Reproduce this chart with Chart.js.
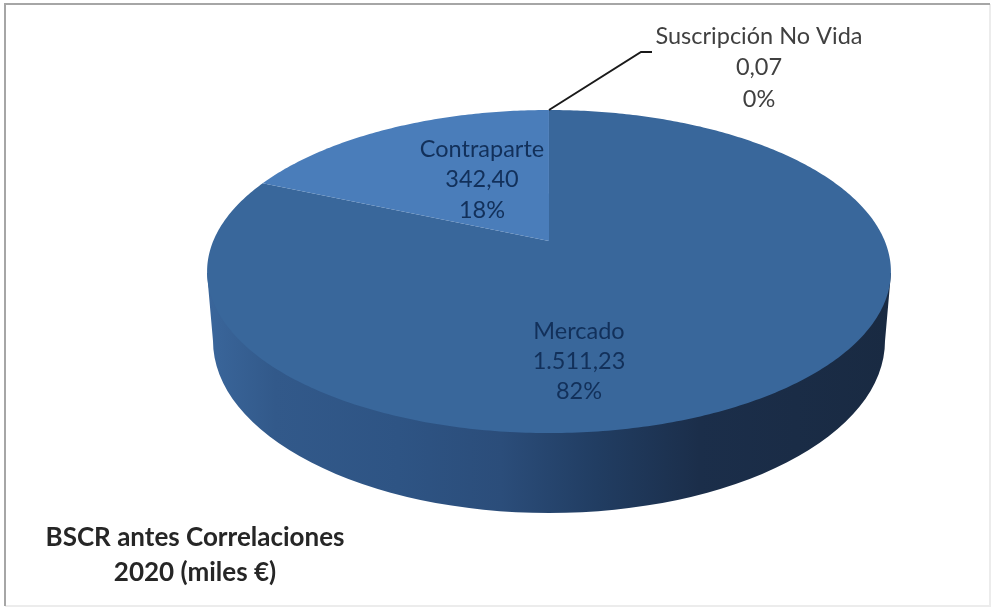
<!DOCTYPE html>
<html>
<head>
<meta charset="utf-8">
<title>BSCR antes Correlaciones 2020</title>
<script src="https://cdn.jsdelivr.net/npm/chart.js@4"></script>
<style>
  html, body { margin: 0; padding: 0; background: #fff; overflow: hidden; }
  #wrap { width: 993px; height: 608px; }
  /* the original is a soft, low quality picture */
  canvas { filter: blur(0.6px); }
</style>
</head>
<body>
<div id="wrap"><canvas id="chart" width="993" height="608"></canvas></div>
<script>
const categories = ['Mercado', 'Contraparte', 'Suscripción No Vida'];
const values = [1511.23, 342.40, 0.07];
const valueLabels = ['1.511,23', '342,40', '0,07'];
const sliceColors = ['#39679b', '#4a7dba', '#39679b'];
const titleLines = ['BSCR antes Correlaciones', '2020 (miles €)'];

const total = values.reduce((a, b) => a + b, 0);

// pie is tilted: maps the round pie of chart.js onto the flattened perspective disc
const tilt = { sx: 2.563, sy: 1.189, k: -0.189 };

function project(el, angle) {
  const v = Math.sin(angle);
  const d = 1 + tilt.k * v;
  return {
    x: el.x + el.outerRadius * tilt.sx * Math.cos(angle) / d,
    y: el.y + el.outerRadius * tilt.sy * v / d
  };
}

function drawWall(ctx, el) {
  const grad = ctx.createLinearGradient(207, 0, 891, 0);
  grad.addColorStop(0, '#3a669b');
  grad.addColorStop(0.1, '#32598a');
  grad.addColorStop(0.28, '#2e5484');
  grad.addColorStop(0.43, '#2b4d7a');
  grad.addColorStop(0.57, '#213d62');
  grad.addColorStop(0.72, '#1b2e4a');
  grad.addColorStop(1, '#192a42');
  const cy = el.y + 100;
  ctx.beginPath();
  ctx.moveTo(el.x - 342, el.y + 32);
  ctx.ellipse(el.x, cy, 336, 172, 0, Math.PI, 0, true);
  ctx.lineTo(el.x + 342, el.y + 32);
  ctx.closePath();
  ctx.fillStyle = grad;
  ctx.fill();
}

function drawSlice(ctx, el) {
  ctx.beginPath();
  ctx.moveTo(el.x, el.y);
  const steps = Math.max(2, Math.ceil((el.endAngle - el.startAngle) * 80));
  for (let i = 0; i <= steps; i++) {
    const a = el.startAngle + (el.endAngle - el.startAngle) * i / steps;
    const p = project(el, a);
    ctx.lineTo(p.x, p.y);
  }
  ctx.closePath();
  ctx.fillStyle = el.options.backgroundColor;
  ctx.fill();
}

function textBlock(ctx, lines, x, ys, font, color) {
  ctx.font = font;
  ctx.fillStyle = color;
  ctx.textAlign = 'center';
  ctx.textBaseline = 'middle';
  lines.forEach((t, i) => ctx.fillText(t, x, ys[i]));
}

function drawFrame(ctx) {
  ctx.lineWidth = 2;
  ctx.strokeStyle = '#ececec';
  ctx.beginPath();
  ctx.moveTo(990, 4);
  ctx.lineTo(990, 606);
  ctx.lineTo(5, 606);
  ctx.stroke();
  ctx.strokeStyle = '#a6a6a6';
  ctx.beginPath();
  ctx.moveTo(5, 606);
  ctx.lineTo(5, 4);
  ctx.lineTo(990, 4);
  ctx.stroke();
}

const tiltedPie = {
  id: 'tiltedPie',
  beforeDatasetsDraw(chart) {
    const ctx = chart.ctx;
    const arcs = chart.getDatasetMeta(0).data;
    ctx.save();
    drawWall(ctx, arcs[0]);
    arcs.forEach(el => drawSlice(ctx, el));
    ctx.restore();
    return false;
  },
  afterDraw(chart) {
    const ctx = chart.ctx;
    const arcs = chart.getDatasetMeta(0).data;
    ctx.save();

    drawFrame(ctx);

    // leader line for the tiny slice
    const top = project(arcs[2], arcs[2].endAngle);
    ctx.strokeStyle = '#1a1a1a';
    ctx.lineWidth = 2;
    ctx.beginPath();
    ctx.moveTo(top.x, top.y);
    ctx.lineTo(top.x + 92, top.y - 58);
    ctx.lineTo(top.x + 103, top.y - 58);
    ctx.stroke();

    const font = '23.5px Lato, "Open Sans", sans-serif';
    const labelAt = [
      { x: 579, ys: [331, 361, 391], color: '#12305a' },
      { x: 482, ys: [149, 179, 210], color: '#12305a' },
      { x: 759, ys: [36, 67, 99], color: '#404040' }
    ];
    categories.forEach((name, i) => {
      const pct = Math.round(values[i] / total * 100) + '%';
      textBlock(ctx, [name, valueLabels[i], pct], labelAt[i].x, labelAt[i].ys, font, labelAt[i].color);
    });

    textBlock(ctx, titleLines, 195, [538, 573], 'bold 26px Lato, "Open Sans", sans-serif', '#262626');
    ctx.restore();
  }
};

new Chart(document.getElementById('chart'), {
  type: 'pie',
  data: {
    labels: categories,
    datasets: [{
      data: values,
      backgroundColor: sliceColors,
      borderWidth: 0
    }]
  },
  options: {
    responsive: false,
    animation: false,
    rotation: 0,
    layout: { padding: { left: 105, top: 110, bottom: 236, right: 0 } },
    plugins: {
      legend: { display: false },
      tooltip: { enabled: false },
      title: { display: false }
    }
  },
  plugins: [tiltedPie]
});
</script>
</body>
</html>
